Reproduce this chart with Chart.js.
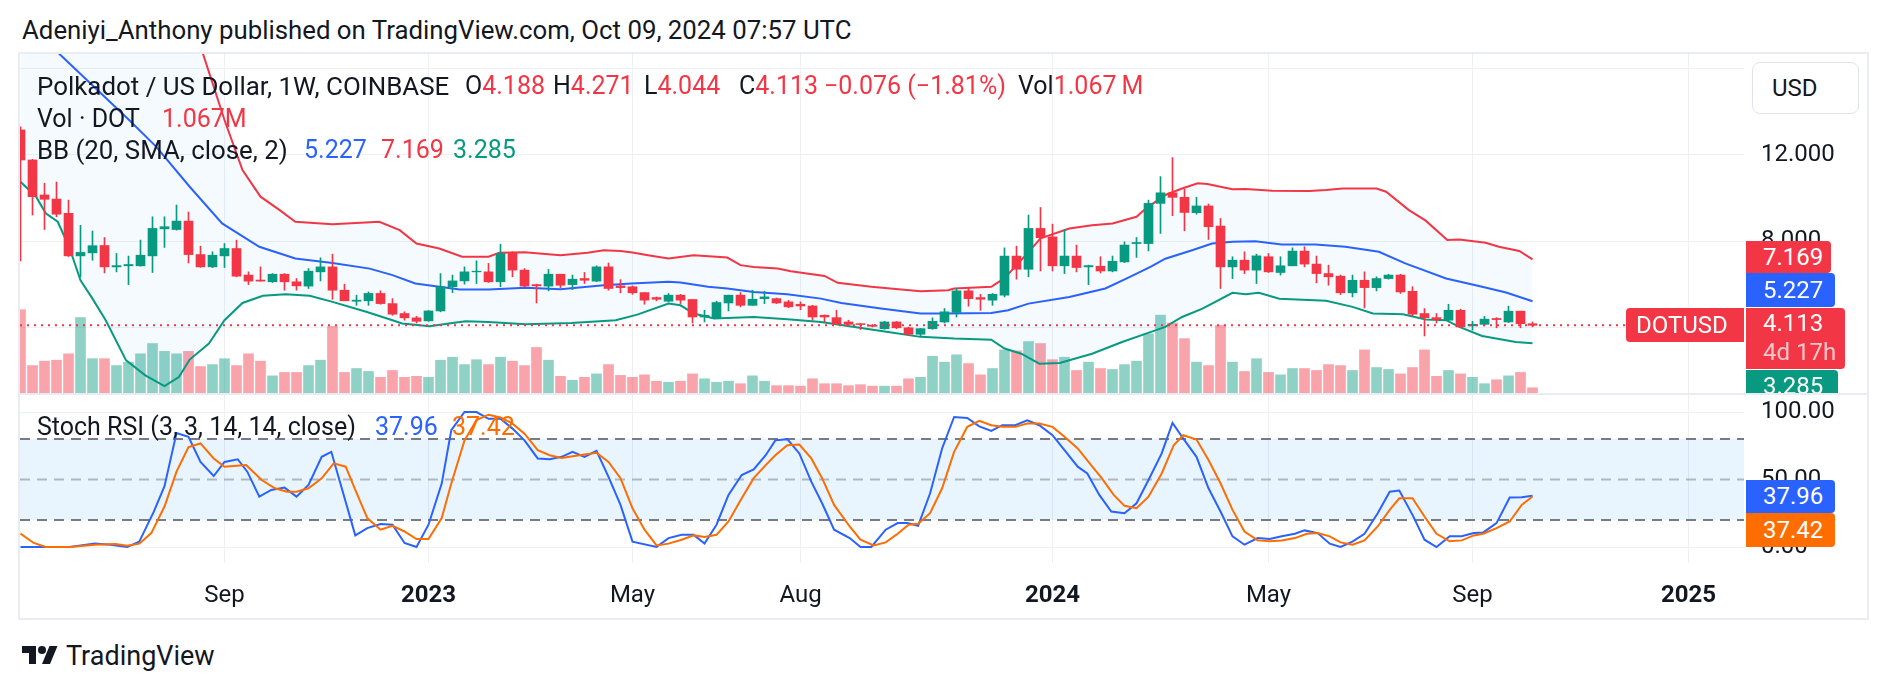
<!DOCTYPE html>
<html><head><meta charset="utf-8">
<script src="https://cdn.jsdelivr.net/npm/chart.js@4.4.1/dist/chart.umd.min.js"></script>
<style>
body{margin:0;width:1888px;height:690px;background:#fff;position:relative;overflow:hidden;font-family:Roboto,sans-serif;color:#131722}
.abs{position:absolute;white-space:nowrap;font-size:25px;line-height:28px;z-index:5}
.pane{position:absolute;overflow:hidden}
.tag{position:absolute;color:#fff;font-size:24px;box-sizing:border-box;padding-left:17px;border-radius:0 4px 4px 0;white-space:nowrap}
.r{color:#F23645}.b{color:#2962FF}.g{color:#089981}.o{color:#FF6D00}
</style></head><body>

<div class="abs" style="left:22px;top:16px;font-size:25.8px">Adeniyi_Anthony published on TradingView.com, Oct 09, 2024 07:57 UTC</div>
<div style="position:absolute;left:18px;top:52px;width:1851px;height:568px;border:2px solid #e9ecf2;box-sizing:border-box"></div>
<div style="position:absolute;left:20px;top:393px;width:1847px;height:2px;background:#e9ecf2"></div>

<div class="pane" style="left:20px;top:54px;width:1847px;height:339px">
  <canvas id="price" width="1847" height="339"></canvas>
  <div style="position:absolute;left:1732px;top:8px;width:107px;height:52px;border:1px solid #e0e3eb;border-radius:8px;background:#fff;box-sizing:border-box;font-size:24px;line-height:50px;padding-left:19px">USD</div>
  <div class="tag" style="left:1726px;top:187px;width:85px;height:32px;line-height:32px;background:#F23645">7.169</div>
  <div class="tag" style="left:1726px;top:219px;width:89px;height:34px;line-height:34px;background:#2962FF">5.227</div>
  <div class="tag" style="left:1606px;top:254px;width:118px;height:34px;line-height:34px;background:#F23645;padding-left:10px;border-radius:4px 0 0 4px">DOTUSD</div>
  <div class="tag" style="left:1726px;top:254px;width:99px;height:61px;line-height:29px;padding-top:1px;background:#F23645">4.113<br><span style="color:rgba(255,255,255,0.72)">4d 17h</span></div>
  <div class="tag" style="left:1726px;top:316px;width:92px;height:34px;line-height:32px;background:#089981">3.285</div>
</div>

<div class="pane" style="left:20px;top:395px;width:1847px;height:223px">
  <canvas id="stoch" width="1847" height="223"></canvas>
  <div class="tag" style="left:1726px;top:85px;width:89px;height:33px;line-height:33px;background:#2962FF">37.96</div>
  <div class="tag" style="left:1726px;top:118px;width:89px;height:34px;line-height:34px;background:#FF6D00">37.42</div>
</div>

<div class="abs" style="left:37px;top:72px;font-size:25.9px">Polkadot / US Dollar, 1W, COINBASE</div>
<div class="abs" style="left:465px;top:72px">O<span class="r">4.188</span></div>
<div class="abs" style="left:553px;top:72px">H<span class="r">4.271</span></div>
<div class="abs" style="left:644px;top:72px">L<span class="r">4.044</span></div>
<div class="abs" style="left:739px;top:72px">C<span class="r">4.113</span></div>
<div class="abs r" style="left:824px;top:72px">−0.076 (−1.81%)</div>
<div class="abs" style="left:1018px;top:72px">Vol<span class="r">1.067&#8201;M</span></div>
<div class="abs" style="left:37px;top:105px">Vol · DOT</div><div class="abs r" style="left:162px;top:105px">1.067M</div>
<div class="abs" style="left:37px;top:136px;font-size:25.8px">BB (20, SMA, close, 2)</div>
<div class="abs b" style="left:304px;top:136px">5.227</div><div class="abs r" style="left:381px;top:136px">7.169</div><div class="abs g" style="left:453px;top:136px">3.285</div>
<div class="abs" style="left:37px;top:413px">Stoch RSI (3, 3, 14, 14, close)</div>
<div class="abs b" style="left:375px;top:413px">37.96</div><div class="abs o" style="left:452px;top:413px">37.42</div>

<svg style="position:absolute;left:22px;top:642px" width="36" height="28" viewBox="0 0 36 28"><path d="M14 22H7V11H0V4h14v18z" fill="#131722"/><path d="M28 22h-8l7.5-18h8L28 22z" fill="#131722"/><circle cx="20" cy="8" r="4" fill="#131722"/></svg>
<div class="abs" style="left:66px;top:641px;font-size:27px;line-height:30px">TradingView</div>

<script>
// weekly DOTUSD bars, index 0 = week of May 9 2022
const opens = [13.16,11.77,10.15,9.96,9.3,7.33,7.47,7.81,6.82,6.87,
  6.87,7.33,8.58,8.55,8.94,7.39,6.82,7.33,7.67,6.44,
  6.21,6.13,6.48,6.13,5.93,6.59,6.82,5.74,5.23,5.25,
  5.59,5.12,4.66,4.46,4.32,4.78,5.9,6.17,6.59,6.59,
  6.13,7.47,6.67,6.0,5.93,6.48,6.0,6.28,6.16,6.82,
  5.94,5.9,5.63,5.4,5.23,5.51,5.31,4.5,4.46,5.15,
  5.51,5.04,5.35,5.35,5.2,5.09,5.01,4.58,4.47,4.27,
  4.19,4.12,3.96,4.27,4.0,3.7,3.96,4.27,4.71,5.71,
  5.4,5.28,5.51,7.32,6.71,8.6,8.21,6.87,7.32,6.82,
  6.85,6.63,7.05,7.9,7.9,9.76,10.25,10.04,9.33,9.64,
  8.71,6.82,7.13,6.67,7.29,6.56,6.87,7.55,6.95,6.51,
  6.39,5.62,6.2,5.86,6.28,6.44,5.69,4.66,4.47,4.35,
  4.81,4.09,4.16,4.43,4.27,4.77,4.188];
const highs = [13.3,11.8,10.69,10.75,9.91,8.74,8.48,8.18,7.44,7.32,
  8.06,9.14,9.14,9.68,9.36,7.78,7.52,7.9,8.06,6.59,
  6.82,6.51,6.51,6.28,6.74,7.24,7.41,6.02,5.51,5.66,
  5.71,5.35,4.74,4.53,4.8,6.51,6.44,6.82,7.1,6.98,
  7.87,7.52,6.74,6.02,6.7,6.48,6.44,6.56,6.87,7.0,
  6.23,5.94,5.63,5.43,5.59,5.55,5.31,4.81,5.23,5.51,
  5.63,5.74,5.69,5.38,5.27,5.2,5.04,4.6,4.81,4.35,
  4.2,4.15,4.3,4.3,4.03,3.97,4.46,4.89,5.82,5.86,
  5.55,5.59,7.7,7.78,9.22,9.57,8.8,8.55,7.83,6.9,
  7.29,7.32,7.98,8.18,9.91,11.0,11.88,10.42,10.04,9.73,
  9.06,7.29,7.52,7.41,7.44,7.29,7.7,7.75,7.32,6.9,
  6.44,6.44,6.59,6.36,6.48,6.48,5.9,4.89,4.66,5.09,
  4.86,4.3,4.53,4.47,5.0,4.77,4.271];
const lows = [7.1,9.22,8.55,9.14,7.3,6.36,7.13,6.54,6.59,6.0,
  6.85,6.56,7.72,8.52,7.0,6.8,6.79,6.79,6.36,6.0,
  6.16,6.1,5.74,5.74,5.82,6.17,5.32,5.25,5.04,5.04,
  5.09,4.58,4.35,4.22,4.3,4.74,5.63,6.02,6.05,6.1,
  5.9,6.36,5.9,5.15,5.71,5.85,5.77,6.05,6.13,5.74,
  5.62,5.55,5.09,5.25,5.2,5.12,4.22,4.27,4.43,4.78,
  4.97,5.04,5.12,5.12,4.93,4.84,4.35,4.27,4.16,4.12,
  3.92,4.04,3.93,3.96,3.65,3.58,3.93,4.22,4.5,5.0,
  4.81,5.04,5.43,6.25,6.36,6.63,6.63,6.51,6.59,6.0,
  6.54,6.59,7.02,7.26,7.56,8.37,9.19,8.49,9.26,8.09,
  5.82,6.28,6.51,6.05,6.56,6.44,6.87,6.82,6.08,5.97,
  5.54,5.43,4.92,5.71,6.25,5.59,4.55,3.62,4.22,4.3,
  4.01,3.89,4.09,4.0,4.24,4.0,4.044];
const closes = [11.77,10.07,9.95,9.26,7.33,7.49,7.8,6.82,6.88,6.93,
  7.36,8.6,8.68,8.94,7.39,6.82,7.36,7.67,6.39,6.16,
  6.16,6.48,6.13,5.94,6.62,6.82,5.74,5.25,5.28,5.59,
  5.12,4.63,4.46,4.3,4.78,5.9,6.17,6.59,6.62,6.13,
  7.44,6.67,5.93,5.94,6.48,5.97,6.25,6.2,6.82,5.82,
  5.86,5.62,5.28,5.32,5.51,5.28,4.5,4.58,5.17,5.51,
  5.04,5.32,5.43,5.15,4.97,5.01,4.5,4.5,4.19,4.16,
  4.15,4.07,4.27,4.0,3.7,3.96,4.3,4.74,5.71,5.35,
  5.32,5.55,7.32,6.71,8.6,8.17,6.87,7.32,6.79,6.88,
  6.63,7.08,7.83,7.95,9.76,10.25,10.04,9.34,9.64,8.68,
  6.82,7.13,6.67,7.33,6.59,6.87,7.55,6.95,6.51,6.36,
  5.62,6.2,5.86,6.28,6.44,5.66,4.63,4.47,4.38,4.81,
  4.04,4.16,4.4,4.38,4.77,4.19,4.113];
// volume in millions of DOT
const volumes = [17.0,5.6,6.5,6.7,8.0,15.4,7.0,7.0,5.6,6.3,
  8.0,10.1,8.5,8.0,8.5,5.4,5.8,7.0,5.6,8.0,
  6.5,3.5,4.2,4.2,5.6,6.7,13.6,4.2,5.0,4.4,
  3.2,4.6,3.2,3.4,3.2,6.7,7.3,5.8,6.8,5.8,
  7.3,6.5,5.6,9.3,6.7,3.4,2.6,3.2,3.9,5.8,
  3.6,3.2,3.7,2.4,2.2,2.4,3.9,2.9,2.2,2.4,
  1.9,3.5,2.4,1.5,1.5,1.4,2.9,1.9,1.9,1.5,
  1.7,1.4,1.4,1.4,2.9,3.2,7.5,6.3,7.8,6.0,
  3.7,5.0,8.8,8.6,10.5,10.1,6.8,7.3,4.6,6.3,
  5.0,4.8,5.8,6.5,12.1,15.9,14.3,11.1,6.3,5.6,
  13.8,6.3,4.4,7.0,4.2,3.7,5.0,5.0,4.6,5.8,
  5.6,4.6,8.8,5.2,4.8,3.9,5.2,8.8,3.4,4.6,
  3.9,3.2,1.9,2.7,3.5,4.2,1.067];

// Bollinger bands: [bar index, price]
const bbUpper = [[0,26],[3,24.7],[6,25],[9,25],[12,22.5],[14,19],[15.2,16.7],[17,13.62],[18.5,11.3],[20,10.07],[21.6,9.45],[22.9,8.91],[26,8.79],[29.9,8.91],[31.6,8.52],[33,7.9],[34.9,7.67],[36.8,7.29],[39,7.29],[39.9,7.47],[42,7.5],[45,7.36],[47.25,7.47],[48.6,7.59],[50,7.56],[51,7.49],[52.3,7.36],[54,7.21],[56.1,7.36],[58.9,7.25],[60,6.9],[61.1,6.82],[63.1,6.74],[64.2,6.62],[67,6.4],[68.1,6.08],[70.9,5.9],[75,5.69],[77.3,5.74],[77.8,5.82],[80.9,5.9],[82,6.3],[83,6.9],[84,7.5],[85,8.14],[87.4,8.6],[89.3,8.75],[91,8.83],[93,9.14],[93.8,9.53],[95.4,10.15],[96.8,10.45],[98.1,10.69],[98.9,10.66],[101,10.41],[102.1,10.42],[104.3,10.35],[107.4,10.33],[108.8,10.38],[110.2,10.45],[113,10.45],[113.8,10.3],[115.7,9.45],[117.1,8.96],[118.9,8.06],[119.9,8.09],[122.1,7.94],[123.2,7.75],[124.9,7.56],[126,7.169]];
const bbBasis = [[0,18.4],[3.2,16.7],[9.05,13.62],[11.3,12.39],[14.1,10.53],[16.8,8.83],[19.9,7.75],[22.9,7.21],[26,7.0],[29.1,6.74],[31,6.44],[32.9,6.05],[34.9,5.9],[36.6,5.77],[39,5.77],[42.1,5.85],[45,5.79],[47.25,5.9],[48.6,5.97],[50.9,6.05],[54,6.13],[55,6.1],[57.3,5.9],[58.9,5.82],[61.1,5.66],[63.9,5.55],[66.7,5.35],[68.4,5.15],[71.7,4.89],[75,4.66],[77,4.66],[80.9,4.69],[82.3,4.81],[84,5.12],[87.4,5.43],[90.4,5.82],[92.5,6.37],[94.2,6.83],[95.4,7.2],[97.7,7.6],[99.3,7.9],[101,7.98],[102.9,8.01],[105.1,7.86],[107.9,7.86],[110.4,7.75],[113.2,7.52],[115.4,6.98],[118.8,6.28],[121.8,5.9],[123.8,5.63],[126,5.227]];
const bbLower = [[0,10.76],[1.3,10.07],[2.1,9.3],[3.1,8.91],[4.05,7.75],[5,6.2],[6,5.35],[7.1,4.35],[8.8,2.49],[10.4,1.8],[12,1.3],[13.2,1.72],[14.1,2.53],[15.7,3.27],[17,4.35],[18.5,5.15],[20.2,5.48],[22.1,5.55],[24.1,5.48],[26,5.2],[28.8,4.74],[31,4.35],[31.8,4.2],[34.1,4.07],[35.7,4.2],[37.1,4.3],[39,4.27],[42.1,4.16],[45.9,4.22],[49.6,4.35],[51.4,4.61],[54,5.12],[55,5.04],[56.1,4.66],[57.8,4.43],[61.1,4.5],[63.9,4.4],[66.7,4.27],[69.5,4.04],[72.3,3.81],[75,3.58],[77.8,3.5],[80.9,3.45],[82,3.04],[83.4,2.8],[84.9,2.34],[86.6,2.37],[89.3,2.8],[91.8,3.34],[93.8,3.73],[95.4,4.04],[96.8,4.5],[98.5,4.89],[101,5.62],[102.1,5.55],[103.2,5.62],[104.9,5.35],[108.8,5.25],[111,4.97],[112.7,4.66],[115.2,4.63],[117.1,4.38],[118.8,4.35],[119.9,4.04],[121.8,3.62],[124.6,3.34],[126,3.285]];

// Stoch RSI %K and %D: [bar index, value]
const stochK = [[0,0],[1.8,0],[4.1,0],[6.2,2.5],[7.5,1.7],[8.9,0],[9.9,4],[11.1,26],[12,45],[13,84.5],[14,81.6],[15,63],[16.1,52.6],[17,63],[18.1,65],[18.9,55.8],[19.9,37.3],[20.9,42.3],[22,44],[23,37.3],[24,46],[25.1,66.8],[25.9,70.5],[27.9,8.6],[28.9,14],[30,17],[31,16.5],[32,3],[33,0],[34,16.5],[35.1,47],[35.9,86.5],[37,100],[38,100],[39,95],[40,95],[41,87.7],[42,79],[43.1,65.6],[44.1,65],[45.1,66.8],[46,70.5],[47,66.8],[48,71.3],[49,52],[50,31.2],[51,4],[53,0],[54,6.6],[55.1,9],[56.1,9],[57,2.5],[58,16.5],[59,38.6],[60.1,53.3],[61.1,57.5],[62.1,68],[62.9,79],[63.9,79.9],[64.9,69.3],[65.9,48.4],[66.8,32.4],[67.8,12.8],[69.1,6.6],[70,0],[70.9,0],[72.1,12.8],[73.1,17.7],[73.9,17.7],[74.8,15.7],[75.8,39.8],[76.8,73],[77.8,96.3],[78.9,95.6],[79.9,89.4],[80.9,86],[81.8,90.2],[82.9,90.2],[83.9,93.9],[84.9,90.2],[86,82.8],[87,71.7],[88.1,59.5],[88.9,54.5],[89.9,38.6],[90.9,26.3],[92,25],[93,32.4],[94,49.6],[95.1,69.3],[96,91.9],[96.9,80.3],[98,66.8],[99,43.5],[100,26.3],[101,7.9],[102,1.7],[103.1,6.6],[104.1,5.9],[105.1,7.9],[106.2,9.8],[107,12.3],[108.1,10.3],[109.1,2.5],[110,0],[111,4],[112,9.8],[113.1,25],[114.1,41],[114.9,41.8],[116,23.8],[117,5.4],[118,0],[119.1,7.9],[120.1,7.9],[121.1,10.3],[121.9,10.8],[123,17.7],[124.1,36.6],[125.1,36.9],[126,37.96]];
const stochD = [[0,10],[1.1,3],[2.1,0],[4.1,0],[6.2,1.7],[7.9,2.2],[8.9,1],[9.9,2.5],[10.9,10.3],[12,30],[13,55.8],[14,74],[15,76.7],[16.1,65.6],[17,59.5],[18.8,60.7],[20.1,49.6],[21.2,43.5],[22.2,41],[23,41],[24,43.5],[25.1,50.9],[26.1,62],[27.1,59.5],[27.9,42.3],[28.9,21.4],[30,12.8],[31,15.7],[32,11.5],[33,5.9],[34,5.9],[35.1,21.4],[35.9,47],[37,79],[38,94],[39,98],[40,96],[41,91.4],[42,84],[43.1,71.7],[44.1,68],[45.1,66],[46.3,67.6],[48,69.8],[49,63],[50,51],[51,28.7],[52,12.8],[53,1.2],[54,2.5],[55.1,5.4],[56.1,8.6],[57,7.4],[58,9],[59,18.9],[60.1,36.1],[61.1,51],[62.1,60.7],[62.9,68],[63.9,75.4],[64.9,75.9],[65.9,65.6],[66.8,51],[67.8,31.2],[69.1,15.2],[70,5.4],[71.1,1.2],[72.1,3.4],[73.1,9.8],[74,16.5],[74.8,17.2],[75.8,25],[76.8,43.5],[77.8,70.5],[78.9,89],[79.9,93.4],[80.9,90.2],[81.8,89],[82.9,89],[83.9,91.4],[84.9,91.4],[86,89],[87,81.6],[88.1,73],[89.1,62],[90.1,51],[91.1,38.6],[92,30.5],[93,28.7],[94,37.3],[95.1,54.5],[96.1,75.4],[96.9,82.8],[98,79.6],[99,64.4],[100,47.2],[101,27.5],[102,11.5],[103.1,4.9],[104.1,4.2],[105.1,4.9],[106.2,6.6],[107.2,9.8],[108.1,10.3],[109.1,7.9],[110,3.4],[111,1.7],[112,4.9],[113.1,15.2],[114.1,27.5],[114.9,36.1],[116,36.1],[117,22.6],[118,9.8],[119.1,4.2],[120.1,4.9],[121.1,8.6],[121.9,9.8],[123,14],[124.1,18.9],[125.1,31.2],[126,37.42]];
const stochBands = [80, 50, 20];

// time axis
const tickIdx = [17, 34, 51, 65, 86, 104, 121, 139];
const tickLabels = ['Sep', '2023', 'May', 'Aug', '2024', 'May', 'Sep', '2025'];
const priceTicks = [4, 8, 12, 16];
const stochTicks = [0, 50, 100];

const GREEN = '#089981', RED = '#F23645', GRID = '#eef0f4';
const X_MIN = -0.5 / 12, X_MAX = X_MIN + 1724 / 12;
const isUp = i => closes[i] >= opens[i];
const candleCol = opens.map((o, i) => isUp(i) ? GREEN : RED);
const volCol = opens.map((o, i) => isUp(i) ? 'rgba(8,153,129,0.45)' : 'rgba(242,54,69,0.45)');
const pts = arr => arr.map(p => ({x: p[0], y: p[1]}));
const font = {family: 'Roboto', size: 24};
const noPad = s => { s.paddingTop = 0; s.paddingBottom = 0; s.paddingLeft = 0; s.paddingRight = 0; };

function xAxis(labels) {
  return {
    type: 'linear', min: X_MIN, max: X_MAX, offset: false,
    afterBuildTicks: s => { s.ticks = tickIdx.map(v => ({value: v})); },
    grid: {color: GRID, drawTicks: false, offset: false},
    border: {display: false},
    ticks: labels ? {
      padding: 19, color: '#131722', maxRotation: 0, autoSkip: false,
      callback: v => tickLabels[tickIdx.indexOf(v)],
      font: c => ({family: 'Roboto', size: 24, weight: /^\d{4}$/.test(tickLabels[tickIdx.indexOf(c.tick && c.tick.value)]) ? 'bold' : 'normal'})
    } : {display: false},
    afterFit: s => { s.height = labels ? 55 : 0; noPad(s); }
  };
}

const priceLine = {
  id: 'priceLine',
  afterDatasetsDraw(c) {
    const y = c.scales.y.getPixelForValue(closes[closes.length - 1]);
    const ctx = c.ctx;
    ctx.save();
    ctx.strokeStyle = RED; ctx.lineWidth = 2; ctx.setLineDash([2, 5]);
    ctx.beginPath(); ctx.moveTo(c.chartArea.left, y); ctx.lineTo(c.chartArea.right, y); ctx.stroke();
    ctx.restore();
  }
};

const common = {responsive: false, animation: false, devicePixelRatio: 1, events: [],
  layout: {padding: 0},
  plugins: {legend: {display: false}, tooltip: {enabled: false}}};

new Chart(document.getElementById('price'), {
  type: 'bar',
  data: {datasets: [
    {type: 'bar', data: volumes.map((v, i) => ({x: i, y: v})), yAxisID: 'yv', backgroundColor: volCol, barThickness: 10, grouped: false, order: 10},
    {type: 'line', data: pts(bbUpper), borderColor: RED, borderWidth: 2, pointRadius: 0, fill: 3, backgroundColor: 'rgba(33,150,243,0.05)', order: 6},
    {type: 'line', data: pts(bbBasis), borderColor: '#2962FF', borderWidth: 2, pointRadius: 0, fill: false, order: 5},
    {type: 'line', data: pts(bbLower), borderColor: GREEN, borderWidth: 2, pointRadius: 0, fill: false, order: 4},
    {type: 'bar', data: highs.map((h, i) => ({x: i, y: [lows[i], h]})), backgroundColor: candleCol, barThickness: 1, grouped: false, order: 2},
    {type: 'bar', data: opens.map((o, i) => ({x: i, y: [o, closes[i]]})), backgroundColor: candleCol, barThickness: 9, grouped: false, order: 1}
  ]},
  options: Object.assign({}, common, {
    scales: {
      x: xAxis(false),
      y: {position: 'right', min: 0.981, max: 16.676,
        afterBuildTicks: s => { s.ticks = priceTicks.map(v => ({value: v})); },
        // the top line sits under the currency button, so it carries no label
        ticks: {padding: 17, color: '#131722', font: font, callback: v => v === priceTicks[priceTicks.length - 1] ? '' : v.toFixed(3)},
        grid: {color: GRID, drawTicks: false}, border: {display: false},
        afterFit: s => { s.width = 123; noPad(s); }},
      yv: {display: false, min: 0, max: 69.2}
    }
  }),
  plugins: [priceLine]
});

const bandLine = (v, col, fill) => ({type: 'line', data: [{x: X_MIN, y: v}, {x: X_MAX, y: v}], borderColor: col, borderWidth: 2,
  borderDash: [10, 7], pointRadius: 0, fill: fill, backgroundColor: 'rgba(33,150,243,0.1)'});

new Chart(document.getElementById('stoch'), {
  type: 'line',
  data: {datasets: [
    Object.assign(bandLine(stochBands[0], '#787B86', 2), {order: 10}),
    Object.assign(bandLine(stochBands[1], 'rgba(120,123,134,0.5)', false), {order: 9}),
    Object.assign(bandLine(stochBands[2], '#787B86', false), {order: 8}),
    {data: pts(stochK), borderColor: '#2962FF', borderWidth: 2, pointRadius: 0, fill: false, order: 2},
    {data: pts(stochD), borderColor: '#FF6D00', borderWidth: 2, pointRadius: 0, fill: false, order: 1}
  ]},
  options: Object.assign({}, common, {
    scales: {
      x: xAxis(true),
      y: {position: 'right', min: -11.85, max: 112.6,
        afterBuildTicks: s => { s.ticks = stochTicks.map(v => ({value: v})); },
        ticks: {padding: 17, color: '#131722', font: font, callback: v => v.toFixed(2)},
        grid: {color: c => (c.tick && c.tick.value === 50) ? 'rgba(0,0,0,0)' : GRID, drawTicks: false},
        border: {display: false},
        afterFit: s => { s.width = 123; noPad(s); }}
    }
  })
});
</script>
</body></html>
